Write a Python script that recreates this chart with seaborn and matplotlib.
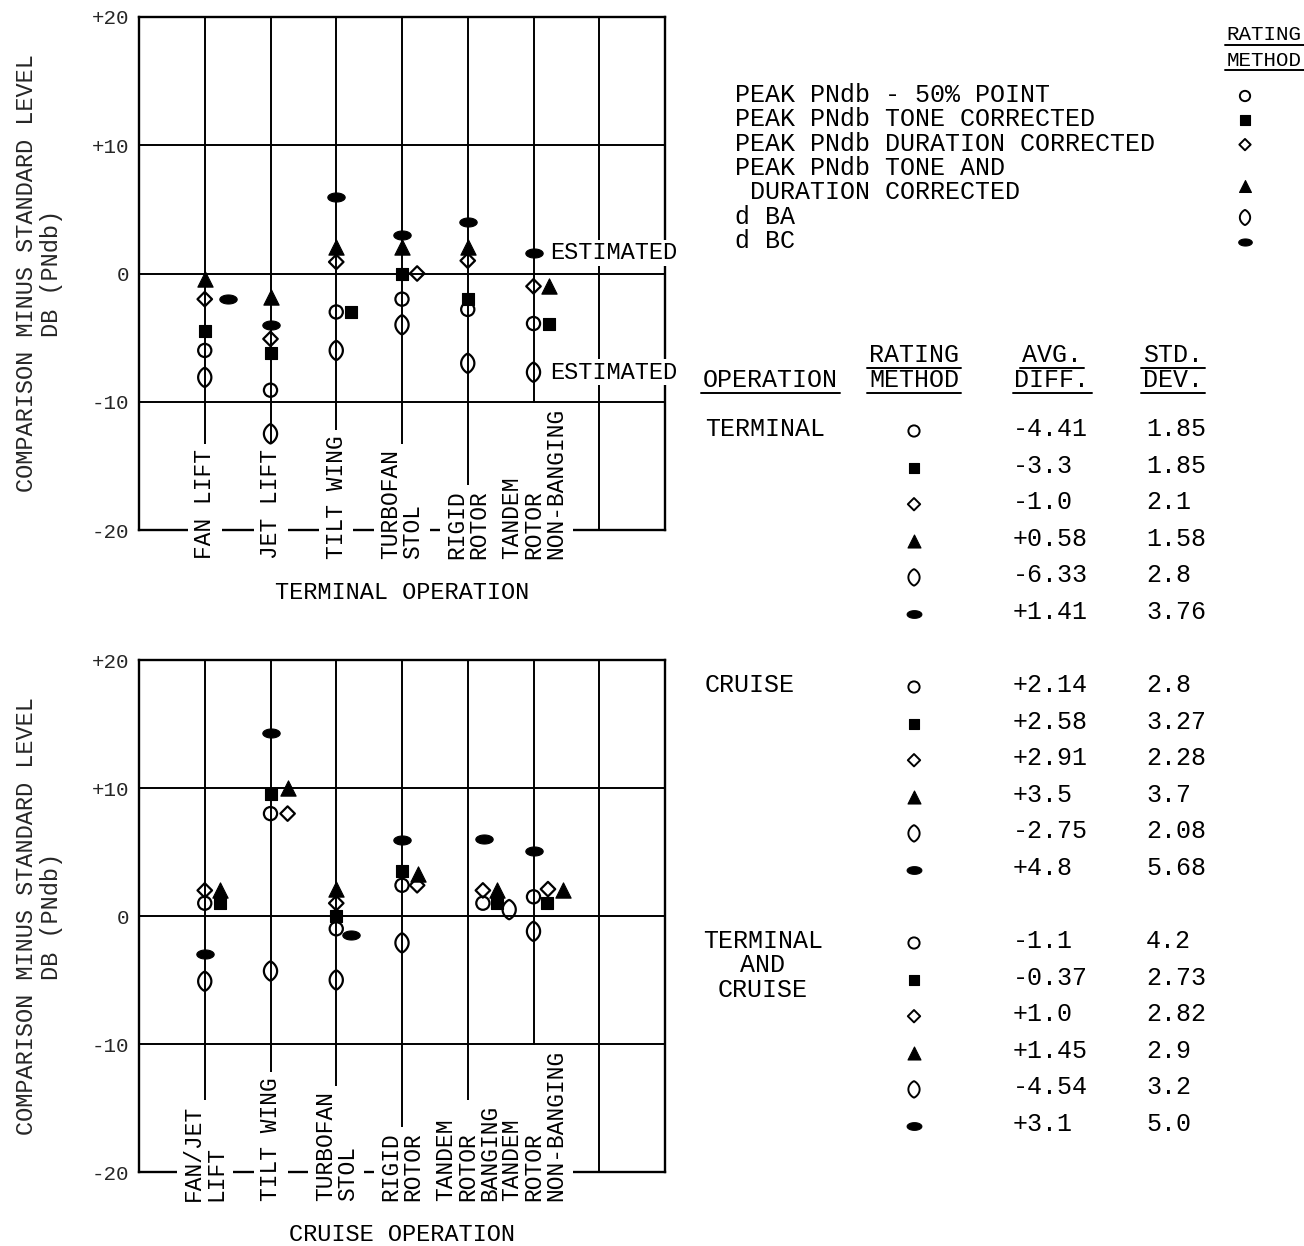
import numpy as np
import pandas as pd
import matplotlib
matplotlib.use("Agg")
import matplotlib.pyplot as plt
from matplotlib.path import Path
from matplotlib.markers import MarkerStyle
import seaborn as sns

# ---------------- data ----------------
method_keys = ["pnl50", "pnlt", "pnld", "pnltd", "dba", "dbc"]
legend_labels = ["PEAK PNdb - 50% POINT", "PEAK PNdb TONE CORRECTED",
                 "PEAK PNdb DURATION CORRECTED",
                 "PEAK PNdb TONE AND\n DURATION CORRECTED", "d BA", "d BC"]

terminal_categories = ["FAN LIFT", "JET LIFT", "TILT WING", "TURBOFAN\nSTOL",
                       "RIGID\nROTOR", "TANDEM\nROTOR\nNON-BANGING"]
terminal_pnl50 = [-6.0, -9.1, -3.0, -2.0, -2.8, -3.9]
terminal_pnlt = [-4.5, -6.2, -3.0, 0.0, -2.0, -3.9]
terminal_pnld = [-2.0, -5.1, 0.9, 0.0, 1.0, -1.0]
terminal_pnltd = [-0.4, -1.8, 2.1, 2.1, 2.1, -1.0]
terminal_dba = [-8.1, -12.5, -6.0, -4.0, -7.0, -7.7]
terminal_dbc = [-2.0, -4.0, 6.0, 3.0, 4.0, 1.6]

cruise_categories = ["FAN/JET\nLIFT", "TILT WING", "TURBOFAN\nSTOL", "RIGID\nROTOR",
                     "TANDEM\nROTOR\nBANGING", "TANDEM\nROTOR\nNON-BANGING"]
cruise_pnl50 = [1.0, 8.0, -1.0, 2.4, 1.0, 1.5]
cruise_pnlt = [1.0, 9.5, 0.0, 3.5, 1.0, 1.0]
cruise_pnld = [2.0, 8.0, 1.0, 2.4, 2.0, 2.1]
cruise_pnltd = [2.0, 10.0, 2.1, 3.3, 2.0, 2.0]
cruise_dba = [-5.1, -4.3, -5.0, -2.1, 0.5, -1.2]
cruise_dbc = [-3.0, 14.3, -1.5, 5.9, 6.0, 5.1]

table_operations = ["TERMINAL", "CRUISE", "TERMINAL\nAND\nCRUISE"]
terminal_avg_diff = ["-4.41", "-3.3", "-1.0", "+0.58", "-6.33", "+1.41"]
terminal_std_dev = ["1.85", "1.85", "2.1", "1.58", "2.8", "3.76"]
cruise_avg_diff = ["+2.14", "+2.58", "+2.91", "+3.5", "-2.75", "+4.8"]
cruise_std_dev = ["2.8", "3.27", "2.28", "3.7", "2.08", "5.68"]
both_avg_diff = ["-1.1", "-0.37", "+1.0", "+1.45", "-4.54", "+3.1"]
both_std_dev = ["4.2", "2.73", "2.82", "2.9", "3.2", "5.0"]

y_ticks = [-20, -10, 0, 10, 20]
y_ticklabels = ["-20", "-10", "0", "+10", "+20"]
y_label = "COMPARISON MINUS STANDARD LEVEL\nDB (PNdb)"
panel_titles = ["TERMINAL OPERATION", "CRUISE OPERATION"]

# ---------------- layout / style ----------------
# horizontal displacement of symbols beside the aircraft line (category units)
terminal_offsets = {
    "pnl50": [0, 0, 0, 0, 0, 0],
    "pnlt": [0, 0, 0.22, 0, 0, 0.23],
    "pnld": [0, 0, 0, 0.23, 0, 0],
    "pnltd": [0, 0, 0, 0, 0, 0.23],
    "dba": [0, 0, 0, 0, 0, 0],
    "dbc": [0.35, 0, 0, 0, 0, 0],
}
cruise_offsets = {
    "pnl50": [0, 0, 0, 0, 0.23, 0],
    "pnlt": [0.23, 0, 0, 0, 0.44, 0.21],
    "pnld": [0, 0.26, 0, 0.23, 0.23, 0.22],
    "pnltd": [0.23, 0.26, 0, 0.24, 0.45, 0.45],
    "dba": [0, 0, 0, 0, 0.63, 0],
    "dbc": [0, 0, 0.23, 0, 0.24, 0],
}


def lens_path(w, p):
    s = np.linspace(-1, 1, 41)
    xr = w * (1 - s ** 2) ** p
    verts = np.concatenate([np.column_stack([xr, s]),
                            np.column_stack([-xr[::-1][1:], s[::-1][1:]])])
    return Path(verts, closed=True)


def ellipse_path(w, h):
    t = np.linspace(0, 2 * np.pi, 61)
    return Path(np.column_stack([w * np.cos(t), h * np.sin(t)]), closed=True)


marker_style = {
    "pnl50": dict(marker="o", fill=False, ms=9.5),
    "pnlt": dict(marker="s", fill=True, ms=8.6),
    "pnld": dict(marker="D", fill=False, ms=7.4),
    "pnltd": dict(marker="^", fill=True, ms=11.0),
    "dba": dict(marker=MarkerStyle(lens_path(0.68, 0.8)), fill=False, ms=14.0),
    "dbc": dict(marker=MarkerStyle(ellipse_path(1.0, 0.52)), fill=True, ms=12.5),
}

W, H = 1304, 1246
sns.set_style("white")
plt.rcParams["font.family"] = ["Liberation Mono", "DejaVu Sans Mono"]
plt.rcParams["text.color"] = "black"

FS = 17          # titles / axis labels
FS_CAT = 16.5    # aircraft names
FS_TAB = 18      # legend and table
fig = plt.figure(figsize=(W / 100, H / 100), dpi=100)
fig.patch.set_facecolor("white")

ax_top = fig.add_axes([139 / W, 1 - 530 / H, 526 / W, 513 / H])
ax_bot = fig.add_axes([139 / W, 1 - 1172 / H, 526 / W, 512 / H])


def build_frame(cats, series, offsets):
    rows = []
    for key in method_keys:
        for i, (c, v) in enumerate(zip(cats, series[key])):
            rows.append(dict(category=c, method=key, value=v,
                             xpos=i + 1 + offsets[key][i]))
    return pd.DataFrame(rows)


terminal_df = build_frame(terminal_categories,
                          dict(pnl50=terminal_pnl50, pnlt=terminal_pnlt, pnld=terminal_pnld,
                               pnltd=terminal_pnltd, dba=terminal_dba, dbc=terminal_dbc),
                          terminal_offsets)
cruise_df = build_frame(cruise_categories,
                        dict(pnl50=cruise_pnl50, pnlt=cruise_pnlt, pnld=cruise_pnld,
                             pnltd=cruise_pnltd, dba=cruise_dba, dbc=cruise_dbc),
                        cruise_offsets)


def draw_panel(ax, df, cats, title):
    ax.set_facecolor("white")
    for key in method_keys:
        st = marker_style[key]
        sub = df[df["method"] == key]
        kw = dict(facecolor="black" if st["fill"] else "none", edgecolor="black",
                  linewidth=0.8 if st["fill"] else 1.6)
        sns.scatterplot(data=sub, x="xpos", y="value", ax=ax, marker=st["marker"],
                        s=st["ms"] ** 2, color="black", legend=False, zorder=4, **kw)
    ax.set_xlim(0, 8)
    ax.set_ylim(-20, 20)
    ax.set_xticks(range(1, 8))
    ax.set_xticklabels([])
    ax.set_yticks(y_ticks)
    ax.set_yticklabels(y_ticklabels)
    ax.tick_params(axis="both", length=0)
    ax.tick_params(axis="y", labelsize=15, pad=7)
    ax.set_axisbelow(True)
    ax.grid(True, color="black", linewidth=1.4)
    for sp in ax.spines.values():
        sp.set_visible(True)
        sp.set_color("black")
        sp.set_linewidth(1.7)
    ax.set_xlabel("")
    ax.set_ylabel(y_label, fontsize=FS, linespacing=1.1)
    ax.yaxis.set_label_coords(-0.145, 0.5)
    cat_kw = dict(rotation=90, ha="center", va="bottom", multialignment="left",
                  fontsize=FS_CAT, linespacing=0.95)
    # white masks first (break the lines behind the names), then the names on top
    for i, c in enumerate(cats):
        ax.text(i + 1, -22.3, c, color="none", zorder=3,
                bbox=dict(facecolor="white", edgecolor="none", pad=4), **cat_kw)
    for i, c in enumerate(cats):
        ax.text(i + 1, -22.3, c, color="black", zorder=3.5, **cat_kw)
    ax.text(0.5, -0.1, title, transform=ax.transAxes, ha="center", va="top",
            fontsize=FS)


draw_panel(ax_top, terminal_df, terminal_categories, panel_titles[0])
draw_panel(ax_bot, cruise_df, cruise_categories, panel_titles[1])

for val in (terminal_dbc[5], terminal_dba[5]):
    ax_top.annotate("ESTIMATED", xy=(6, val), xytext=(12, 0), textcoords="offset points",
                    ha="left", va="center", fontsize=FS, zorder=5, annotation_clip=False,
                    bbox=dict(facecolor="white", edgecolor="none", pad=1))

# ---------------- legend and table (overlay in pixel coordinates) ----------------
ov = fig.add_axes([0, 0, 1, 1])
ov.set_xlim(0, W)
ov.set_ylim(H, 0)
ov.axis("off")
underlined = []


def put(x, y, s, ha="left", ul=False, fs=FS_TAB):
    t = ov.text(x, y, s, ha=ha, va="center", fontsize=fs)
    if ul:
        underlined.append(t)
    return t


def glyph(x, y, key, scale=0.8):
    st = marker_style[key]
    ov.scatter([x], [y], marker=st["marker"], s=(st["ms"] * scale) ** 2,
               facecolor="black" if st["fill"] else "none", edgecolor="black",
               linewidth=0.8 if st["fill"] else 1.4)


# legend
put(1264, 35, "RATING", ha="center", ul=True, fs=15)
put(1264, 60, "METHOD", ha="center", ul=True, fs=15)
y = 95
glyph_y = []
for lab in legend_labels:
    lines = lab.split("\n")
    for ln in lines:
        put(735, y, ln)
        y += 24.3
    glyph_y.append(y - 24.3 - (7 if len(lines) > 1 else 0))
for key, gy in zip(method_keys, glyph_y):
    glyph(1245, gy + 1, key, scale=0.78)

# table header
put(703, 380, "OPERATION", ul=True)
put(914, 355, "RATING", ha="center", ul=True)
put(914, 380, "METHOD", ha="center", ul=True)
put(1052, 355, "AVG.", ha="center", ul=True)
put(1052, 380, "DIFF.", ha="center", ul=True)
put(1173, 355, "STD.", ha="center", ul=True)
put(1173, 380, "DEV.", ha="center", ul=True)

table_avg = [terminal_avg_diff, cruise_avg_diff, both_avg_diff]
table_std = [terminal_std_dev, cruise_std_dev, both_std_dev]
block_y0 = [429, 685, 941]
for op, y0, avgs, stds in zip(table_operations, block_y0, table_avg, table_std):
    oplines = op.split("\n")
    if len(oplines) == 1:
        put(705, y0, op)
    else:
        for k, ln in enumerate(oplines):
            put(763, y0 + 24.5 * k, ln, ha="center")
    for r, (key, a, s) in enumerate(zip(method_keys, avgs, stds)):
        yy = y0 + 36.6 * r
        glyph(914, yy + 2, key, scale=0.85)
        put(1013, yy, a)
        put(1146, yy, s)

fig.canvas.draw()
inv = ov.transData.inverted()
for t in underlined:
    bb = t.get_window_extent()
    (x0, y0), (x1, y1) = inv.transform([(bb.x0, bb.y0), (bb.x1, bb.y1)])
    yb = max(y0, y1) + 0.5
    ov.plot([x0 - 2, x1 + 2], [yb, yb], color="black", linewidth=1.4)

fig.savefig("out.png", dpi=100, facecolor="white")
